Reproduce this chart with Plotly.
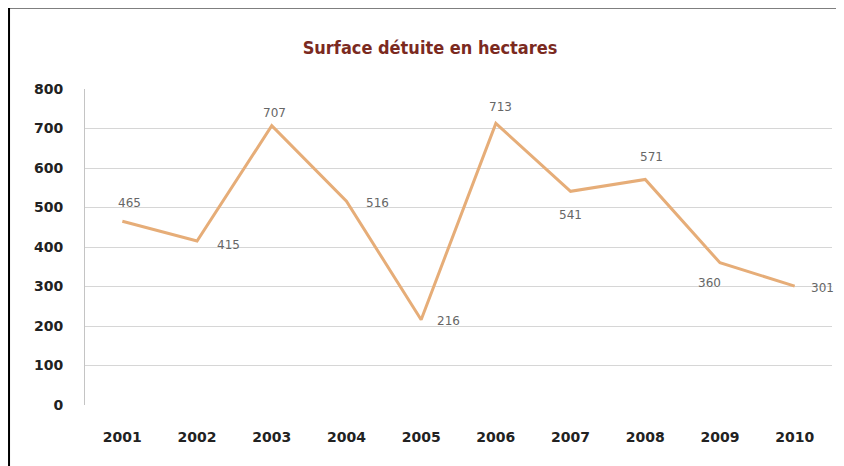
import plotly.graph_objects as go

annees = ['2001', '2002', '2003', '2004', '2005', '2006', '2007', '2008', '2009', '2010']
surface = [465, 415, 707, 516, 216, 713, 541, 571, 360, 301]
y_ticks = [0, 100, 200, 300, 400, 500, 600, 700, 800]

# décalage des étiquettes (pixels) par rapport au point
dx_etiq = [7, 31, 3, 31, 27, 5, 0, 6, -10, 28]
dy_etiq = [18, -4, 13, -2, -1, 16, -24, 22, -20, -2]

fig = go.Figure()

fig.add_trace(go.Scatter(x=annees, y=surface,
                         mode='lines',
                         line=dict(color='#e6ad78', width=3),
                         showlegend=False))

# sur un axe catégoriel, l'annotation prend l'indice de la catégorie
for i, (v, dx, dy) in enumerate(zip(surface, dx_etiq, dy_etiq)):
    fig.add_annotation(x=i, y=v, text=str(v), showarrow=False,
                       xshift=dx, yshift=dy,
                       font=dict(family='DejaVu Sans', size=12, color='#666666'))

# cadre noir autour du graphique (la page a une marge de 8px)
fig.add_shape(type='rect', xref='paper', yref='paper',
              x0=-0.1017, x1=1.05, y0=-0.3, y1=1.258,
              line=dict(color='black', width=2), layer='above')

fig.update_layout(
    width=844, height=466,
    margin=dict(l=77, r=20, t=81, b=69, autoexpand=False),
    paper_bgcolor='white', plot_bgcolor='white',
    title=dict(text='<b>Surface détuite en hectares</b>',
               x=0.5, xanchor='center', y=0.914, yanchor='middle',
               font=dict(family='DejaVu Sans Condensed, Liberation Sans Narrow, DejaVu Sans',
                         size=18, color='#7b2a1f')),
)

fig.update_yaxes(range=[0, 800], tickvals=y_ticks, automargin=False,
                 showgrid=True, gridcolor='#d6d6d6', gridwidth=1,
                 zeroline=False,
                 showline=True, linecolor='#c4c4c4', linewidth=1,
                 ticklabelstandoff=18,
                 tickfont=dict(family='DejaVu Sans', size=14, color='#222222', weight='bold'))

fig.update_xaxes(type='category', range=[-0.5, len(annees) - 0.5],
                 showgrid=False, showline=False, zeroline=False,
                 automargin=False, ticklabelstandoff=22,
                 tickfont=dict(family='DejaVu Sans', size=14, color='#222222', weight='bold'))

fig.write_html("out.html")
